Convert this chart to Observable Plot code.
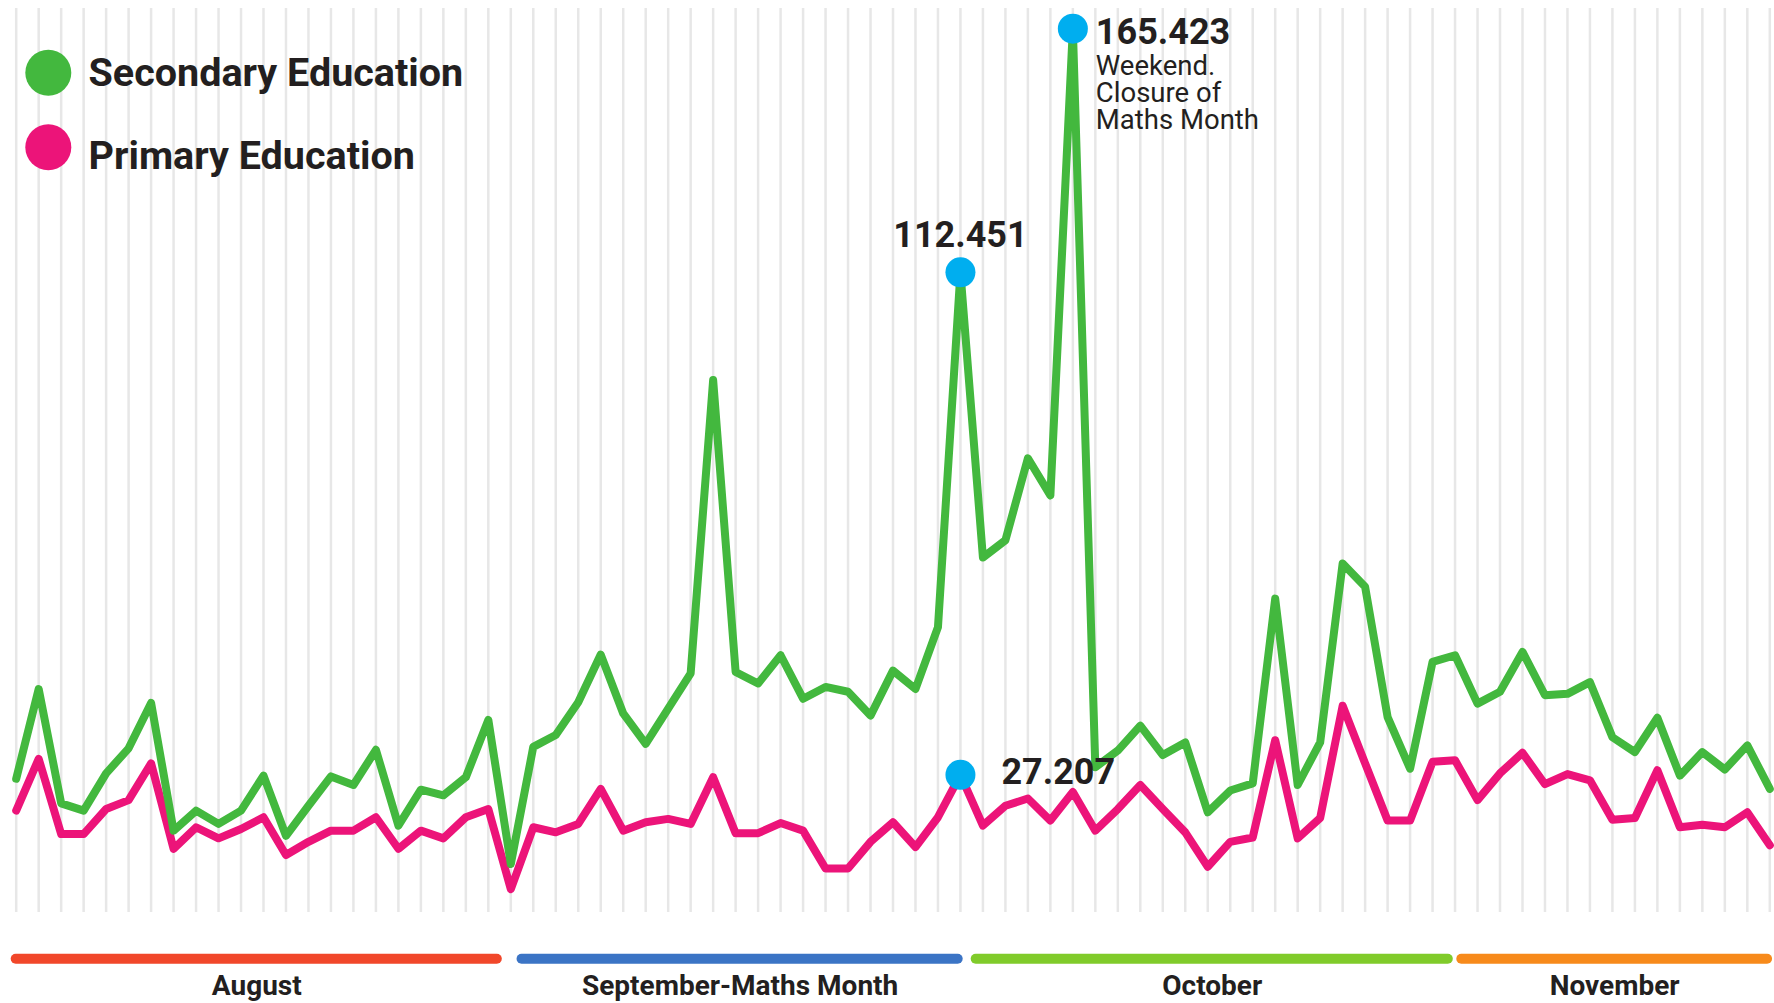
<!DOCTYPE html>
<html>
<head>
<meta charset="utf-8">
<script src="https://cdn.jsdelivr.net/npm/d3@7"></script>
<script src="https://cdn.jsdelivr.net/npm/@observablehq/plot@0.6"></script>
<style>
html, body { margin: 0; padding: 0; background: #ffffff; }
#chart svg { display: block; }
</style>
</head>
<body>
<div id="chart"></div>
<script>
// ---- data ----
const secondary = [
  26.7, 39.0, 23.6, 22.7, 27.4, 30.7, 37.0, 20.3, 22.7, 21.1,
  22.7, 27.1, 19.7, 23.3, 27.0, 25.9, 30.5, 20.9, 25.3, 24.6,
  26.9, 34.6, 16.5, 30.9, 32.5, 37.1, 44.1, 35.5, 31.3, 36.2,
  41.3, 91.2, 41.5, 39.8, 44.0, 37.6, 39.3, 38.6, 35.2, 41.7,
  39.0, 48.3, 112.451, 59.5, 62.4, 76.7, 70.1, 165.423, 28.2, 30.4,
  33.8, 29.8, 31.5, 22.5, 25.2, 26.1, 52.8, 25.9, 31.5, 58.5,
  54.7, 35.0, 28.0, 43.0, 44.0, 36.9, 38.6, 44.5, 38.1, 38.3,
  40.0, 32.2, 30.2, 34.9, 27.1, 30.2, 27.9, 31.1, 25.4
];
const primary = [
  22.7, 29.3, 19.9, 19.9, 22.9, 24.0, 28.7, 18.2, 20.7, 19.4,
  20.5, 21.9, 17.5, 19.0, 20.3, 20.3, 21.9, 18.2, 20.3, 19.4,
  21.9, 22.9, 13.8, 20.7, 20.1, 21.1, 25.4, 20.3, 21.3, 21.7,
  21.1, 26.9, 20.0, 20.0, 21.2, 20.3, 16.0, 16.0, 19.0, 21.3,
  18.4, 21.9, 27.207, 20.9, 23.3, 24.2, 21.5, 25.0, 20.3, 22.9,
  25.9, 22.9, 20.1, 16.2, 19.0, 19.5, 31.8, 19.4, 21.8, 36.6,
  28.7, 21.5, 21.5, 28.9, 29.1, 24.0, 27.4, 30.1, 26.0, 27.3,
  26.5, 21.6, 21.8, 27.8, 20.7, 21.0, 20.7, 22.5, 18.6
];
const seriesNames = ["Secondary Education", "Primary Education"];
const seriesColors = ["#43b83e", "#ec1479"];

const months = ["August", "September-Maths Month", "October", "November"];
const monthStart = [0, 22.5, 42.7, 64.3];
const monthEnd = [21.4, 41.9, 63.7, 77.9];
const monthColors = ["#f1472a", "#3b74c5", "#80cb2a", "#f78a1b"];

const highlightSeries = [0, 0, 1];
const highlightIndex = [47, 42, 42];
const highlightNote = "Weekend.\nClosure of\nMaths Month";

// ---- derived tables ----
const seriesValues = [secondary, primary];
const n = secondary.length;
const idx = d3.range(n);
const rows = seriesValues.map((vals, k) => vals.map((v, i) => ({series: seriesNames[k], i, v})));
const highlights = highlightIndex.map((i, k) => {
  const v = seriesValues[highlightSeries[k]][i];
  return {i, v, label: v.toFixed(3)};
});
const monthRows = months.map((m, k) => ({name: m, start: monthStart[k], end: monthEnd[k], color: monthColors[k]}));

const W = 1774, H1 = 930, H2 = 73;
const ML = 15.7, MR = 4.7;
const ink = "#231f20";
const font = "Roboto, 'Noto Sans', sans-serif";

const main = Plot.plot({
  width: W, height: H1,
  marginLeft: ML, marginRight: MR, marginTop: 8, marginBottom: 18,
  x: {domain: [0, n - 1], axis: null},
  y: {type: "pow", exponent: 0.68, domain: [11.44, 170.1], axis: null},
  style: {fontFamily: font, background: "#ffffff", overflow: "visible"},
  marks: [
    Plot.ruleX(idx, {stroke: "#e7e7e7", strokeWidth: 2.5}),
    Plot.line(rows[1], {x: "i", y: "v", stroke: seriesColors[1], strokeWidth: 8, strokeLinejoin: "round"}),
    Plot.line(rows[0], {x: "i", y: "v", stroke: seriesColors[0], strokeWidth: 8, strokeLinejoin: "round"}),
    Plot.dot(highlights, {x: "i", y: "v", r: 15, fill: "#00aeef"}),
    Plot.text([highlights[0]], {x: "i", y: "v", text: "label", textAnchor: "start", lineAnchor: "middle", dx: 23, dy: 4,
      fontSize: 36, fontWeight: 700, fill: ink}),
    Plot.text([highlights[0]], {x: "i", y: "v", text: () => highlightNote, textAnchor: "start", lineAnchor: "top",
      lineHeight: 0.98, dx: 23, dy: 27.5, fontSize: 27.5, fill: ink}),
    Plot.text([highlights[1]], {x: "i", y: "v", text: "label", textAnchor: "middle", lineAnchor: "middle", dy: -37,
      fontSize: 36, fontWeight: 700, fill: ink}),
    Plot.text([highlights[2]], {x: "i", y: "v", text: "label", textAnchor: "start", lineAnchor: "middle", dx: 41, dy: -2,
      fontSize: 36, fontWeight: 700, fill: ink}),
    // legend
    Plot.dot([seriesNames[0]], {x: null, y: null, frameAnchor: "top-left", dx: 32.1, dy: 64.2, r: 23, fill: seriesColors[0]}),
    Plot.dot([seriesNames[1]], {x: null, y: null, frameAnchor: "top-left", dx: 32.1, dy: 138.7, r: 23, fill: seriesColors[1]}),
    Plot.text([seriesNames[0]], {x: null, y: null, text: d => d, frameAnchor: "top-left", textAnchor: "start", lineAnchor: "middle",
      dx: 72.3, dy: 64.4, fontSize: 39.5, fontWeight: 700, fill: ink}),
    Plot.text([seriesNames[1]], {x: null, y: null, text: d => d, frameAnchor: "top-left", textAnchor: "start", lineAnchor: "middle",
      dx: 72.3, dy: 147.4, fontSize: 39.5, fontWeight: 700, fill: ink})
  ]
});

const band = Plot.plot({
  width: W, height: H2,
  marginLeft: ML, marginRight: MR, marginTop: 0, marginBottom: 16.4,
  x: {domain: [0, n - 1], axis: null},
  color: {type: "identity"},
  style: {fontFamily: font, background: "#ffffff", overflow: "visible"},
  marks: [
    Plot.ruleY(monthRows, {x1: "start", x2: "end", y: null, stroke: "color", strokeWidth: 10, strokeLinecap: "round"}),
    Plot.text(monthRows, {x: d => (d.start + d.end) / 2, text: "name", frameAnchor: "bottom", lineAnchor: "middle", dy: -0.6,
      fontSize: 28, fontWeight: 700, fill: ink})
  ]
});

const chart = document.getElementById("chart");
chart.appendChild(main);
chart.appendChild(band);
</script>
</body>
</html>
